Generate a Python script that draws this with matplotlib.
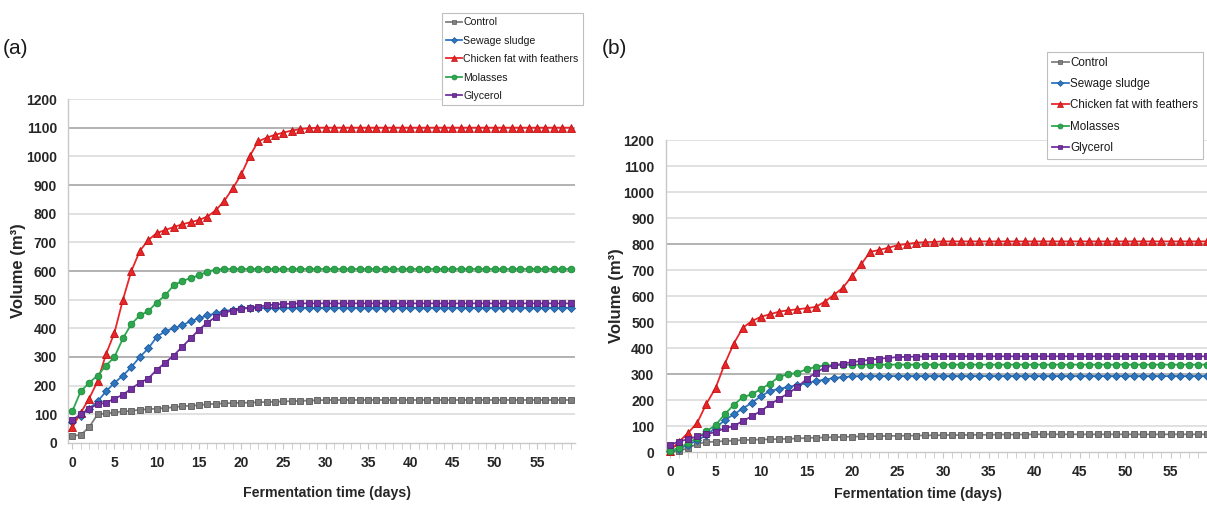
import matplotlib
matplotlib.use("Agg")
import matplotlib.pyplot as plt
from matplotlib.lines import Line2D

# ---------------- data ----------------
days = list(range(60))
series_names = ["Control", "Sewage sludge", "Chicken fat with feathers", "Molasses", "Glycerol"]
x_tick_labels = [0, 5, 10, 15, 20, 25, 30, 35, 40, 45, 50, 55]
y_tick_labels = [0, 100, 200, 300, 400, 500, 600, 700, 800, 900, 1000, 1100, 1200]

# panel (a)
a_control = [25, 28, 55, 100, 103, 107, 110, 112, 116, 118,
             120, 122, 125, 128, 130, 132, 135, 137, 138, 140,
             140, 141, 142, 143, 144, 145, 146, 147, 148, 149,
             150, 150, 150, 150, 150, 150, 150, 150, 150, 150,
             150, 150, 150, 150, 150, 150, 150, 150, 150, 150,
             150, 150, 150, 150, 150, 150, 150, 150, 150, 150]
a_sewage = [75, 95, 120, 145, 180, 210, 235, 265, 300, 330,
            370, 390, 400, 410, 425, 435, 445, 452, 460, 465,
            470, 471, 472, 472, 472, 472, 472, 472, 472, 472,
            472, 472, 472, 472, 472, 472, 472, 472, 472, 472,
            472, 472, 472, 472, 472, 472, 472, 472, 472, 472,
            472, 472, 472, 472, 472, 472, 472, 472, 472, 472]
a_chicken = [55, 105, 155, 215, 310, 385, 500, 600, 670, 708,
             732, 743, 753, 763, 770, 778, 790, 812, 845, 888,
             937, 1000, 1052, 1065, 1075, 1083, 1090, 1095, 1098, 1100,
             1100, 1100, 1100, 1100, 1100, 1100, 1100, 1100, 1100, 1100,
             1100, 1100, 1100, 1100, 1100, 1100, 1100, 1100, 1100, 1100,
             1100, 1100, 1100, 1100, 1100, 1100, 1100, 1100, 1100, 1100]
a_molasses = [110, 180, 210, 235, 270, 300, 365, 415, 445, 460,
              490, 515, 550, 565, 575, 585, 598, 605, 607, 607,
              607, 607, 607, 607, 607, 607, 607, 607, 607, 607,
              607, 607, 607, 607, 607, 607, 607, 607, 607, 607,
              607, 607, 607, 607, 607, 607, 607, 607, 607, 607,
              607, 607, 607, 607, 607, 607, 607, 607, 607, 607]
a_glycerol = [80, 100, 120, 135, 140, 155, 168, 190, 210, 225,
              255, 280, 305, 335, 365, 395, 420, 440, 455, 462,
              468, 472, 476, 480, 483, 485, 486, 487, 487, 487,
              487, 487, 487, 487, 487, 487, 487, 487, 487, 487,
              487, 487, 487, 487, 487, 487, 487, 487, 487, 487,
              487, 487, 487, 487, 487, 487, 487, 487, 487, 487]

# panel (b)
b_control = [0, 5, 15, 32, 38, 40, 42, 44, 46, 47,
             48, 49, 50, 51, 52, 54, 55, 56, 57, 58,
             59, 60, 60, 61, 62, 62, 63, 63, 64, 64,
             65, 65, 65, 66, 66, 66, 67, 67, 67, 67,
             68, 68, 68, 68, 68, 68, 68, 68, 68, 68,
             68, 68, 68, 68, 68, 68, 68, 68, 68, 68]
b_sewage = [5, 12, 28, 45, 65, 93, 122, 145, 167, 190,
            215, 235, 243, 250, 258, 264, 273, 278, 285, 288,
            291, 292, 292, 292, 292, 292, 292, 292, 292, 292,
            292, 292, 292, 292, 292, 292, 292, 292, 292, 292,
            292, 292, 292, 292, 292, 292, 292, 292, 292, 292,
            292, 292, 292, 292, 292, 292, 292, 292, 292, 292]
b_chicken = [5, 40, 74, 113, 186, 246, 338, 417, 478, 504,
             520, 530, 540, 545, 549, 553, 558, 578, 604, 632,
             677, 722, 770, 777, 786, 795, 800, 805, 807, 808,
             810, 810, 810, 810, 810, 810, 810, 810, 810, 810,
             810, 810, 810, 810, 810, 810, 810, 810, 810, 810,
             810, 810, 810, 810, 810, 810, 810, 810, 810, 810]
b_molasses = [5, 15, 35, 55, 80, 103, 145, 181, 211, 222,
              243, 263, 290, 299, 305, 318, 327, 333, 334, 335,
              336, 336, 336, 336, 336, 336, 336, 336, 336, 336,
              336, 336, 336, 336, 336, 336, 336, 336, 336, 336,
              336, 336, 336, 336, 336, 336, 336, 336, 336, 336,
              336, 336, 336, 336, 336, 336, 336, 336, 336, 336]
b_glycerol = [28, 40, 50, 60, 68, 77, 91, 100, 119, 138,
              158, 183, 205, 226, 250, 280, 305, 324, 333, 340,
              346, 350, 355, 359, 362, 365, 366, 367, 368, 368,
              368, 368, 368, 368, 368, 368, 368, 368, 368, 368,
              368, 368, 368, 368, 368, 368, 368, 368, 368, 368,
              368, 368, 368, 368, 368, 368, 368, 368, 368, 368]

# ---------------- style ----------------
plt.rcParams["font.family"] = ["Liberation Sans", "DejaVu Sans"]

colors = ["#808080", "#2e75c0", "#e8262a", "#2ea84f", "#7330a0"]
edge_colors = ["#5a5a5a", "#1f5a9a", "#c01010", "#1e8a3a", "#55207a"]
markers = ["s", "D", "^", "o", "s"]
msizes = [4.3, 4.0, 5.2, 4.8, 4.8]

W, H = 1207, 509
fig = plt.figure(figsize=(W / 100, H / 100), dpi=100)

panels = [
    dict(data=[a_control, a_sewage, a_chicken, a_molasses, a_glycerol],
         pos=[68 / W, 1 - 443 / H, 507 / W, 344 / H],
         dark=[300, 600, 900, 1100],
         leg=(442 / W, 1 - 13 / H), legfs=7.6,
         label="(a)", labpos=(3 / W, 1 - 48 / H),
         ylabx=19, xlaby=493, xlabx=327),
    dict(data=[b_control, b_sewage, b_chicken, b_molasses, b_glycerol],
         pos=[665.5 / W, 1 - 452 / H, 546 / W, 312 / H],
         dark=[300, 800],
         leg=(1047 / W, 1 - 52 / H), legfs=8.4,
         label="(b)", labpos=(602 / W, 1 - 48 / H),
         ylabx=616, xlaby=494, xlabx=918),
]

for p in panels:
    ax = fig.add_axes(p["pos"])
    ax.set_xlim(-0.5, 59.5)
    ax.set_ylim(0, 1200)
    for v in y_tick_labels[1:]:
        c = "#a6a6a6" if v in p["dark"] else "#dcdcdc"
        ax.axhline(v, color=c, lw=1.2, zorder=0)
    handles = []
    for name, vals, c, ec, m, ms in zip(series_names, p["data"], colors, edge_colors, markers, msizes):
        ax.plot(days, vals, color=c, lw=1.3, marker=m, ms=ms, mfc=c, mec=ec, mew=0.6,
                zorder=3, clip_on=False)
        handles.append(Line2D([0], [0], color=c, lw=1.3, marker=m, ms=ms * 0.75,
                              mfc=c, mec=ec, mew=0.5))
    for s in ["top", "right"]:
        ax.spines[s].set_visible(False)
    for s in ["left", "bottom"]:
        ax.spines[s].set_color("#c8c8c8")
        ax.spines[s].set_linewidth(1.0)
    ax.set_xticks(x_tick_labels)
    ax.set_xticklabels([str(v) for v in x_tick_labels])
    ax.set_xticks(days, minor=True)
    ax.set_yticks(y_tick_labels)
    ax.set_yticklabels([str(v) for v in y_tick_labels])
    ax.tick_params(axis="x", which="both", direction="out", length=4.5, color="#c8c8c8",
                   labelsize=10, pad=5)
    ax.tick_params(axis="y", length=0, labelsize=10, pad=8)
    for t in ax.get_xticklabels() + ax.get_yticklabels():
        t.set_fontweight("bold")
        t.set_color("#262626")
    yl_center = p["pos"][1] + p["pos"][3] / 2
    fig.text(p["ylabx"] / W, yl_center, "Volume (m³)", rotation=90, ha="center", va="center",
             fontsize=12, fontweight="bold", color="#262626")
    fig.text(p["xlabx"] / W, 1 - p["xlaby"] / H, "Fermentation time (days)",
             ha="center", va="center", fontsize=10.2, fontweight="bold", color="#262626")
    fig.text(p["labpos"][0], p["labpos"][1], p["label"], ha="left", va="center",
             fontsize=15, color="#1a1a1a")
    leg = fig.legend(handles, series_names, loc="upper left", bbox_to_anchor=p["leg"],
                     bbox_transform=fig.transFigure, borderaxespad=0, fontsize=p["legfs"],
                     fancybox=False, framealpha=1, edgecolor="#bfbfbf",
                     handlelength=1.5, handletextpad=0.1, labelspacing=0.8,
                     borderpad=0.4)
    leg.get_frame().set_linewidth(0.8)
    for t in leg.get_texts():
        t.set_color("#1a1a1a")

fig.savefig("out.png", dpi=100)
